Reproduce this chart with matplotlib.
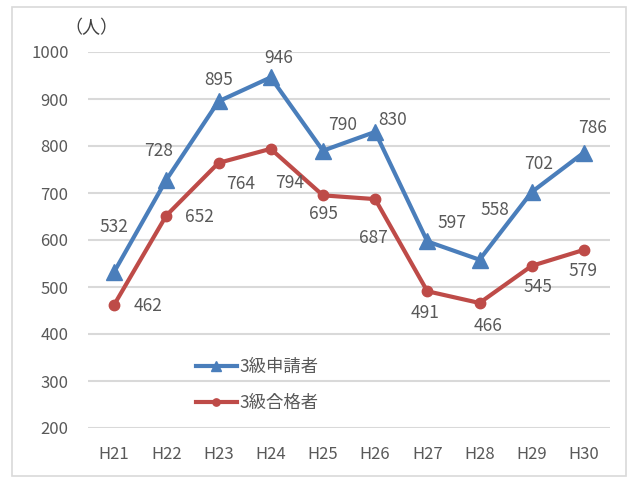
import matplotlib
matplotlib.use('Agg')
import matplotlib.pyplot as plt
from matplotlib.patches import Rectangle

plt.rcParams['font.family'] = ['Noto Sans CJK JP', 'DejaVu Sans']

# Data
years = ['H21', 'H22', 'H23', 'H24', 'H25', 'H26', 'H27', 'H28', 'H29', 'H30']
applicants = [532, 728, 895, 946, 790, 830, 597, 558, 702, 786]
passed = [462, 652, 764, 794, 695, 687, 491, 466, 545, 579]
yticks = [200, 300, 400, 500, 600, 700, 800, 900, 1000]

# label offsets (pixels, dx, dy-up)
off_app = [(0, 45), (-8, 29), (0, 21), (8, 19), (20, 26), (18, 12), (25, 18), (15, 50), (7, 28), (9, 25)]
off_pas = [(34, -1), (33, -1), (22, -21), (19, -34), (1, -19), (-2, -39), (-2, -22), (9, -23), (6, -21), (-1, -21)]

BLUE = '#4A7EBB'
RED = '#BE4B48'
GREY = '#595959'

fig = plt.figure(figsize=(6.36, 4.78), dpi=100)
ax = fig.add_axes([88/636, 1 - 428/478, 522/636, 376/478])

x = range(len(years))
ax.plot(x, applicants, color=BLUE, lw=3, marker='^', ms=11, label='3級申請者', zorder=3)
ax.plot(x, passed, color=RED, lw=3, marker='o', ms=7.5, label='3級合格者', zorder=3)

for i, v in enumerate(applicants):
    ax.annotate(str(v), (i, v), xytext=off_app[i], textcoords='offset pixels',
                ha='center', va='center', fontsize=12.5, color=GREY)
for i, v in enumerate(passed):
    ax.annotate(str(v), (i, v), xytext=off_pas[i], textcoords='offset pixels',
                ha='center', va='center', fontsize=12.5, color=GREY)

ax.set_xlim(-0.5, len(years) - 0.5)
ax.set_ylim(200, 1000)
ax.set_yticks(yticks)
ax.set_xticks(list(x))
ax.set_xticklabels(years)
ax.tick_params(axis='both', length=0, colors=GREY, labelsize=12)
ax.tick_params(axis='y', pad=14)
ax.tick_params(axis='x', pad=13)
ax.grid(axis='y', color='#D9D9D9', lw=1.5)
ax.set_axisbelow(True)
for s in ax.spines.values():
    s.set_visible(False)

leg = ax.legend(loc='center left', bbox_to_anchor=(180/636, 1 - 385/478),
                bbox_transform=fig.transFigure, frameon=False, fontsize=12.5,
                handlelength=2.4, handletextpad=0.1, labelspacing=1.05, markerscale=0.7)
for t in leg.get_texts():
    t.set_color(GREY)

fig.text(64/636, 1 - 28/478, '（人）', fontsize=13, color='#404040', va='center', ha='left')

fig.patches.append(Rectangle((12/636, 2/478), 614/636, 469/478, transform=fig.transFigure,
                             fill=False, edgecolor='#D9D9D9', lw=1.2))

fig.savefig('out.png', dpi=100)
